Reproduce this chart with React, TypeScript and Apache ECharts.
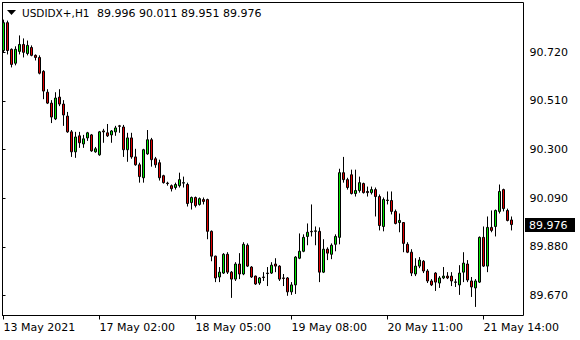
import React, { useEffect, useRef } from "react";
import * as echarts from "echarts";

const SYMBOL = "USDIDX+,H1";

const OPEN = [
  90.727, 90.847, 90.732, 90.672, 90.723, 90.753, 90.714, 90.740, 90.706, 90.697,
  90.637, 90.547, 90.500, 90.432, 90.526, 90.496, 90.444, 90.376, 90.290, 90.359,
  90.324, 90.350, 90.363, 90.290, 90.277, 90.380, 90.372, 90.363, 90.376, 90.402,
  90.397, 90.299, 90.350, 90.268, 90.234, 90.178, 90.281, 90.342, 90.260, 90.243,
  90.187, 90.155, 90.144, 90.136, 90.144, 90.155, 90.149, 90.071, 90.093, 90.063,
  90.084, 90.084, 89.947, 89.840, 89.750, 89.767, 89.848, 89.771, 89.741, 89.806,
  89.763, 89.887, 89.793, 89.754, 89.724, 89.750, 89.767, 89.767, 89.806, 89.797,
  89.746, 89.746, 89.686, 89.716, 89.831, 89.861, 89.925, 89.947, 89.947, 89.947,
  89.771, 89.870, 89.848, 89.891, 89.921, 90.200, 90.170, 90.191, 90.110, 90.123,
  90.153, 90.119, 90.114, 90.127, 90.097, 89.968, 90.082, 90.080, 90.033, 89.985,
  89.985, 89.891, 89.857, 89.763, 89.797, 89.818, 89.776, 89.733, 89.767, 89.724,
  89.746, 89.754, 89.754, 89.729, 89.716, 89.771, 89.806, 89.733, 89.703, 89.728,
  89.921, 89.797, 89.964, 89.968, 90.033, 90.127, 90.037, 89.996,
];
const HIGH = [
  90.860, 90.856, 90.736, 90.745, 90.792, 90.779, 90.770, 90.749, 90.710, 90.706,
  90.642, 90.560, 90.513, 90.547, 90.560, 90.513, 90.462, 90.384, 90.376, 90.376,
  90.363, 90.376, 90.367, 90.311, 90.380, 90.389, 90.410, 90.384, 90.402, 90.406,
  90.406, 90.372, 90.372, 90.303, 90.243, 90.303, 90.384, 90.350, 90.268, 90.256,
  90.191, 90.161, 90.149, 90.157, 90.200, 90.183, 90.157, 90.097, 90.097, 90.093,
  90.093, 90.088, 89.951, 89.842, 89.793, 89.853, 89.857, 89.776, 89.814, 89.853,
  89.900, 89.895, 89.797, 89.756, 89.750, 89.771, 89.793, 89.814, 89.831, 89.801,
  89.763, 89.750, 89.728, 89.840, 89.938, 89.934, 89.981, 90.063, 89.968, 89.964,
  89.913, 89.878, 89.895, 89.934, 90.217, 90.268, 90.178, 90.213, 90.213, 90.183,
  90.157, 90.140, 90.140, 90.136, 90.106, 90.093, 90.119, 90.119, 90.041, 90.024,
  89.987, 89.900, 89.870, 89.831, 89.836, 89.823, 89.784, 89.741, 89.771, 89.754,
  89.793, 89.771, 89.771, 89.741, 89.801, 89.857, 89.823, 89.750, 89.741, 89.925,
  89.968, 90.011, 90.037, 90.041, 90.149, 90.131, 90.045, 90.011,
];
const LOW = [
  90.719, 90.710, 90.654, 90.663, 90.710, 90.697, 90.706, 90.702, 90.684, 90.624,
  90.517, 90.496, 90.414, 90.427, 90.487, 90.402, 90.372, 90.268, 90.264, 90.307,
  90.307, 90.337, 90.290, 90.286, 90.273, 90.329, 90.354, 90.329, 90.359, 90.372,
  90.268, 90.247, 90.260, 90.230, 90.157, 90.157, 90.277, 90.226, 90.221, 90.166,
  90.153, 90.144, 90.119, 90.127, 90.136, 90.136, 90.054, 90.041, 90.050, 90.058,
  90.063, 89.913, 89.818, 89.728, 89.728, 89.763, 89.763, 89.660, 89.733, 89.741,
  89.758, 89.793, 89.746, 89.716, 89.716, 89.733, 89.711, 89.763, 89.771, 89.733,
  89.711, 89.669, 89.673, 89.677, 89.827, 89.857, 89.887, 89.925, 89.887, 89.728,
  89.767, 89.823, 89.827, 89.861, 89.891, 90.157, 90.127, 90.106, 90.097, 90.114,
  90.110, 90.097, 90.106, 90.011, 89.951, 89.947, 90.063, 90.020, 89.977, 89.943,
  89.857, 89.853, 89.754, 89.754, 89.788, 89.767, 89.724, 89.711, 89.690, 89.703,
  89.741, 89.741, 89.711, 89.707, 89.673, 89.728, 89.728, 89.664, 89.621, 89.724,
  89.793, 89.771, 89.943, 89.925, 90.024, 90.033, 89.990, 89.951,
];
const CLOSE = [
  90.847, 90.727, 90.667, 90.732, 90.753, 90.719, 90.749, 90.706, 90.697, 90.629,
  90.552, 90.500, 90.440, 90.522, 90.496, 90.449, 90.376, 90.290, 90.354, 90.329,
  90.346, 90.372, 90.294, 90.303, 90.376, 90.376, 90.359, 90.380, 90.393, 90.400,
  90.299, 90.350, 90.268, 90.234, 90.183, 90.299, 90.342, 90.256, 90.234, 90.178,
  90.157, 90.153, 90.131, 90.149, 90.170, 90.157, 90.067, 90.093, 90.058, 90.088,
  90.076, 89.947, 89.840, 89.746, 89.771, 89.848, 89.771, 89.741, 89.806, 89.763,
  89.891, 89.797, 89.750, 89.720, 89.746, 89.748, 89.765, 89.801, 89.797, 89.741,
  89.744, 89.686, 89.716, 89.836, 89.861, 89.921, 89.943, 89.945, 89.949, 89.771,
  89.870, 89.853, 89.887, 89.925, 90.200, 90.170, 90.136, 90.110, 90.123, 90.157,
  90.114, 90.114, 90.127, 90.097, 89.972, 90.084, 90.080, 90.033, 89.981, 89.994,
  89.895, 89.857, 89.767, 89.797, 89.823, 89.776, 89.733, 89.716, 89.728, 89.746,
  89.754, 89.746, 89.733, 89.727, 89.767, 89.810, 89.737, 89.707, 89.733, 89.921,
  89.797, 89.964, 89.951, 90.037, 90.119, 90.045, 89.994, 89.976,
];

const PRICE_TICKS = [89.67, 89.88, 90.09, 90.3, 90.51, 90.72];
const TIME_LABELS = ["13 May 2021", "17 May 02:00", "18 May 05:00", "19 May 08:00", "20 May 11:00", "21 May 14:00"];
const TIME_LABEL_BARS = [0, 24, 48, 72, 96, 120];
const PRICE_MIN = 89.584;
const PRICE_MAX = 90.934;
const EMPTY_BARS_RIGHT = 2;

const FONT = "'DejaVu Sans', Verdana, sans-serif";

export default function App() {
  const ref = useRef<HTMLDivElement>(null);
  useEffect(() => {
    const chart = echarts.init(ref.current!, null, { renderer: "svg" });
    const n = OPEN.length;
    const cats = Array.from({ length: n + EMPTY_BARS_RIGHT }, (_, i) => String(i));
    const data = OPEN.map((o, i) => [o, CLOSE[i], LOW[i], HIGH[i]]);
    const last = n - 1;
    const showAt = (idx: number) => TIME_LABEL_BARS.indexOf(idx) >= 0;

    chart.setOption({
      animation: false,
      backgroundColor: "#ffffff",
      grid: [
        { left: 1.5, top: 2.5, width: 4 * cats.length, bottom: 24.5, show: false },
        { left: 2.5, top: 2.5, right: 56.5, bottom: 24.5, show: true, borderColor: "#000", borderWidth: 1, backgroundColor: "transparent" },
      ],
      xAxis: [
        {
          type: "category",
          gridIndex: 0,
          data: cats,
          boundaryGap: true,
          axisLine: { show: false },
          axisTick: { show: true, alignWithLabel: true, length: 4, interval: (i: number) => showAt(i), lineStyle: { color: "#000" } },
          axisLabel: {
            interval: (i: number) => showAt(i),
            formatter: (_v: string, i: number) => {
              const p = TIME_LABEL_BARS.indexOf(i);
              return p >= 0 ? TIME_LABELS[p] : "";
            },
            align: "left",
            margin: 6,
            color: "#000",
            fontSize: 11,
            fontFamily: FONT,
          },
          splitLine: { show: false },
        },
        { type: "value", gridIndex: 1, show: false, min: 0, max: 1 },
      ],
      yAxis: [
        { type: "value", gridIndex: 0, min: PRICE_MIN, max: PRICE_MAX, show: false, splitLine: { show: false } },
        {
          type: "value",
          gridIndex: 1,
          position: "right",
          min: PRICE_MIN,
          max: PRICE_MAX,
          splitLine: { show: false },
          axisLine: { show: true, lineStyle: { color: "#000" } },
          axisTick: { show: true, length: 3, customValues: PRICE_TICKS, lineStyle: { color: "#000" } },
          axisLabel: {
            customValues: PRICE_TICKS,
            formatter: (v: number) => v.toFixed(3),
            margin: 6,
            color: "#000",
            fontSize: 11,
            fontFamily: FONT,
          },
        },
      ],
      series: [
        {
          type: "candlestick",
          xAxisIndex: 0,
          yAxisIndex: 0,
          data,
          barWidth: 2,
          itemStyle: {
            color: "#00e600",
            color0: "#e00000",
            borderColor: "#000",
            borderColor0: "#000",
            borderWidth: 1,
          },
        },
      ],
    });

    const py = chart.convertToPixel({ yAxisIndex: 0 }, CLOSE[last]) as number;
    chart.setOption({
      graphic: [
        { type: "polygon", shape: { points: [[7, 10], [16, 10], [11.5, 15]] }, style: { fill: "#000" } },
        { type: "text", x: 22, y: 13, style: { text: SYMBOL, fill: "#000", font: `10.5px ${FONT}`, verticalAlign: "middle" } },
        {
          type: "text",
          x: 97,
          y: 13,
          style: {
            text: [OPEN[last], HIGH[last], LOW[last], CLOSE[last]].map((v) => v.toFixed(3)).join(" "),
            fill: "#000",
            font: `11px ${FONT}`,
            verticalAlign: "middle",
          },
        },
        { type: "rect", shape: { x: 525, y: Math.round(py) - 7, width: 50, height: 14 }, style: { fill: "#000" } },
        { type: "text", x: 529, y: Math.round(py), style: { text: CLOSE[last].toFixed(3), fill: "#fff", font: `11px ${FONT}`, verticalAlign: "middle" } },
      ],
    });

    return () => chart.dispose();
  }, []);
  return <div ref={ref} style={{ position: "fixed", left: 0, top: 0, width: 580, height: 340 }} />;
}
